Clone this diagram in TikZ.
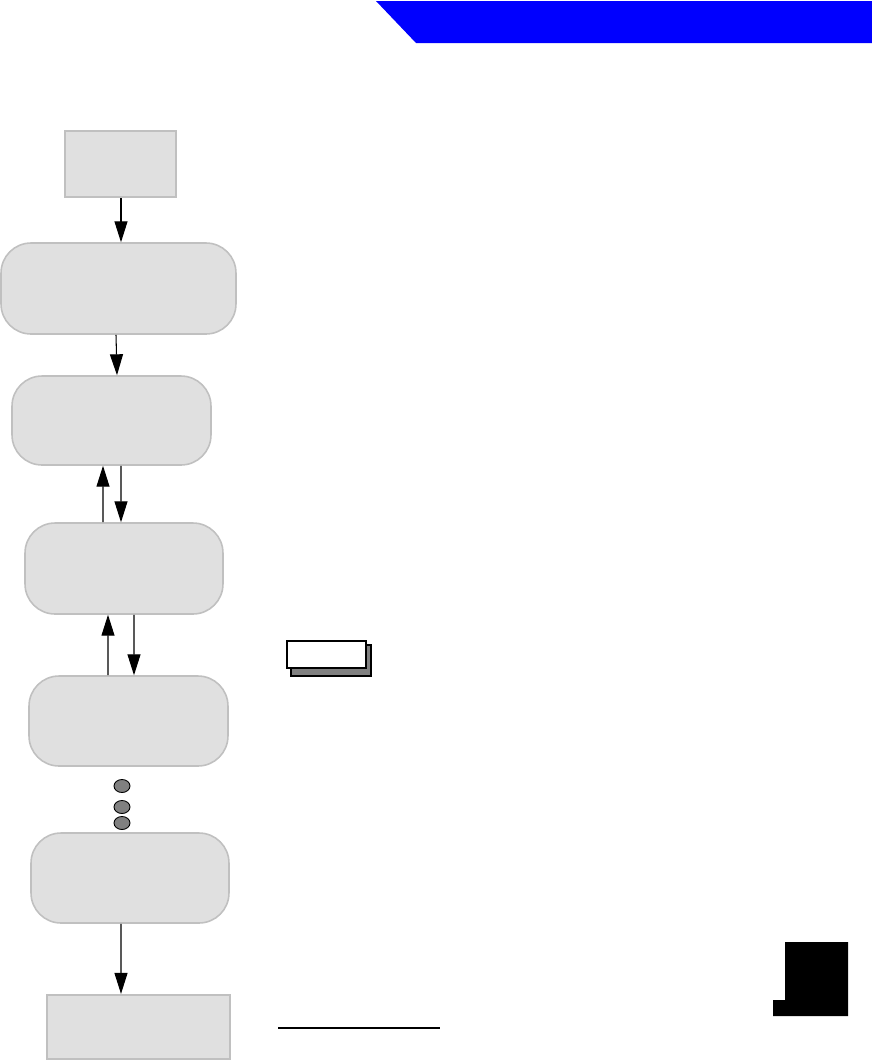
\documentclass[tikz,border=0pt]{standalone}
\usepackage{tikz}
\usetikzlibrary{positioning,calc,arrows.meta,shapes.geometric}
\definecolor{bannerblue}{RGB}{0,0,255}
\definecolor{boxfill}{RGB}{224,224,224}
\definecolor{boxline}{RGB}{192,192,192}
\definecolor{dotgray}{RGB}{128,128,128}

\begin{document}
\begin{tikzpicture}[x=0.02cm,y=-0.02cm,
  term/.style={draw=boxline,line width=1.3pt,fill=boxfill,inner sep=0pt},
  stage/.style={draw=boxline,line width=0.9pt,fill=boxfill,rounded corners=0.6cm,inner sep=0pt},
  dot/.style={ellipse,draw=black,line width=0.5pt,fill=dotgray,minimum width=0.32cm,
              minimum height=0.26cm,inner sep=0pt},
  arr/.style={line width=0.6pt,-{Triangle[length=11.9pt,width=7.4pt]}}]
  \useasboundingbox (0,0) rectangle (872,1062);
  % banner
  \fill[bannerblue] (376,1) -- (872,1) -- (872,43) -- (416,43) -- cycle;
  % flow
  \node[term,minimum width=2.22cm,minimum height=1.32cm] (src) at (120.5,164) {};
  \node[stage,minimum width=4.7cm,minimum height=1.82cm] (s1) at (118.5,288.5) {};
  \node[stage,minimum width=3.98cm,minimum height=1.78cm] (s2) at (111.5,420.5) {};
  \node[stage,minimum width=3.96cm,minimum height=1.82cm] (s3) at (124,568.5) {};
  \node[stage,minimum width=3.98cm,minimum height=1.8cm] (s4) at (128.5,721) {};
  \node[stage,minimum width=3.96cm,minimum height=1.8cm] (s5) at (130,878) {};
  \node[term,minimum width=3.66cm,minimum height=1.28cm] (snk) at (138.5,1027) {};
  \node[dot] (d1) at (122,786) {};
  \node[dot] (d2) at (122,807) {};
  \node[dot] (d3) at (122,823) {};
  \draw[arr] ([xshift=0.01cm]src.south) -- ([xshift=0.01cm]src.south |- s1.north);
  \draw[arr] ([xshift=-0.05cm]s1.south) -- ([xshift=0.11cm]s2.north);
  \draw[arr] ([xshift=-0.42cm]s3.north) -- ([xshift=-0.17cm]s2.south);
  \draw[arr] ([xshift=0.19cm]s2.south) -- ([xshift=-0.06cm]s3.north);
  \draw[arr] ([xshift=-0.41cm]s4.north) -- ([xshift=-0.32cm]s3.south);
  \draw[arr] ([xshift=0.2cm]s3.south) -- ([xshift=0.11cm]s4.north);
  \draw[arr] ([xshift=-0.18cm]s5.south) -- ([xshift=-0.35cm]snk.north);
  % note box
  \node[draw,line width=1pt,fill=dotgray,minimum width=1.6cm,minimum height=0.62cm,inner sep=0pt] (shd) at (331,660.5) {};
  \node[draw,line width=1pt,fill=white,minimum width=1.58cm,minimum height=0.54cm,inner sep=0pt] (note) at (326.5,654.5) {};
  % page tab and rule
  \fill[black] (785,942) -- (848,942) -- (848,1016) -- (773,1016) -- (773,1000) -- (785,1000) -- cycle;
  \draw[line width=0.6pt] (278,1028) -- (440,1028);
\end{tikzpicture}
\end{document}
